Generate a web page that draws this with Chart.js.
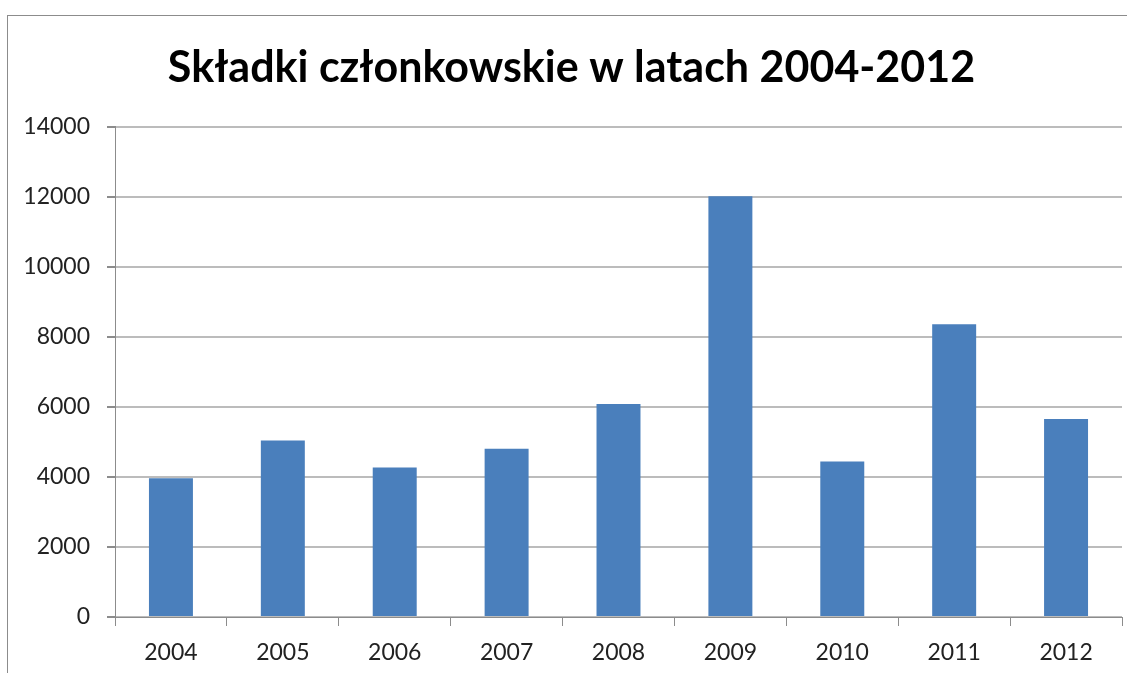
<!DOCTYPE html>
<html>
<head>
<meta charset="utf-8">
<script src="https://cdn.jsdelivr.net/npm/chart.js@4/dist/chart.umd.min.js"></script>
<style>
  html, body { margin: 0; padding: 0; background: #fff; }
  #wrap { position: relative; width: 1139px; height: 673px; }
  #frame { position: absolute; left: 7px; top: 15px; width: 1119px; height: 680px;
           border-top: 1px solid #8c8c8c; border-left: 1px solid #8c8c8c; }
  canvas { position: absolute; left: 0; top: 0; }
</style>
</head>
<body>
<div id="wrap">
  <div id="frame"></div>
  <canvas id="myChart" width="1139" height="673"></canvas>
</div>
<script>
// dane
const years = ['2004', '2005', '2006', '2007', '2008', '2009', '2010', '2011', '2012'];
const fees = [3960, 5040, 4270, 4800, 6080, 12010, 4440, 8360, 5650];
const yTicks = [0, 2000, 4000, 6000, 8000, 10000, 12000, 14000];
const chartTitle = 'Składki członkowskie w latach 2004-2012';

var ctx = document.getElementById('myChart');

var myChart = new Chart(ctx, {
    type: 'bar',
    data: {
        labels: years,
        datasets: [{
            data: fees,
            backgroundColor: '#4a7fbc',
            borderColor: '#4a7fbc',
            borderWidth: 0,
            categoryPercentage: 1,
            barPercentage: 0.393
        }]
    },
    options: {
        responsive: false,
        animation: false,
        layout: { padding: { left: 21, right: 17, top: 0, bottom: 0 } },
        plugins: {
            legend: { display: false },
            tooltip: { enabled: false },
            title: {
                display: true,
                text: chartTitle,
                color: '#000',
                font: { family: 'Lato', size: 43, weight: 'bold' },
                padding: { top: 42, bottom: 33 }
            }
        },
        scales: {
            x: {
                offset: true,
                grid: {
                    offset: true,
                    drawOnChartArea: false,
                    drawTicks: true,
                    tickLength: 9,
                    color: '#8c8c8c'
                },
                border: { color: '#8c8c8c', width: 1 },
                ticks: {
                    color: '#222',
                    font: { family: 'Lato', size: 23 },
                    padding: 13,
                    maxRotation: 0
                },
                afterFit: function (axis) { axis.height = 56; }
            },
            y: {
                min: 0,
                max: 14000,
                afterBuildTicks: function (axis) {
                    axis.ticks = yTicks.map(v => ({ value: v }));
                },
                grid: {
                    color: '#bcbcbc',
                    lineWidth: 2,
                    drawTicks: true,
                    tickLength: 8,
                    tickColor: '#8c8c8c'
                },
                border: { color: '#8c8c8c', width: 1 },
                ticks: {
                    color: '#222',
                    font: { family: 'Lato', size: 23 },
                    padding: 17,
                    callback: function (v) { return String(v); }
                },
                afterFit: function (axis) { axis.width = 94; }
            }
        }
    }
});
</script>
</body>
</html>
